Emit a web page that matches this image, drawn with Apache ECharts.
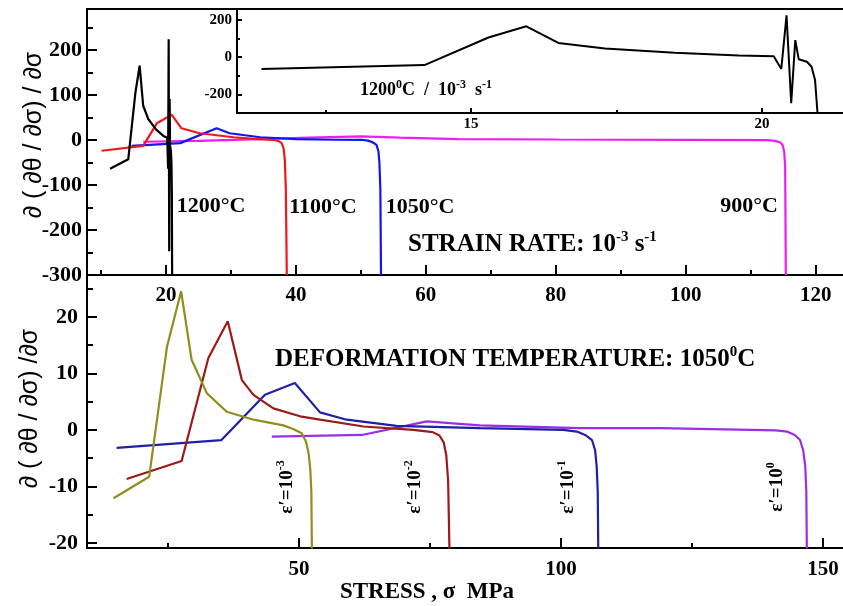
<!DOCTYPE html>
<html>
<head>
<meta charset="utf-8">
<script src="https://cdn.jsdelivr.net/npm/echarts@6/dist/echarts.min.js"></script>
<style>
  html, body { margin: 0; padding: 0; background: #fff; }
  #chart { width: 843px; height: 606px; }
</style>
</head>
<body>
<div id="chart"></div>
<script>
// top panel: strain rate 1e-3 s^-1, [stress, d(dθ/dσ)/dσ]
let curve1200 = [[11.4, -64], [14.2, -43], [15.3, 105], [15.95, 165], [16.5, 76], [17.3, 46], [18.5, 23],
  [19.6, 9], [20.2, 5], [20.33, -64], [20.42, 224], [20.5, -247], [20.57, 91], [20.63, -12],
  [20.77, -25], [20.85, -52], [20.91, -123], [20.95, -292], [20.97, -320]];
let curve1100 = [[10.1, -24], [16.5, -13], [18.6, 37], [20.9, 56], [22.4, 26], [25.2, 15], [30.4, 6],
  [34, 2], [36.5, 0], [37.3, -2], [37.8, -7], [38.1, -18], [38.3, -45], [38.45, -110], [38.6, -300]];
let curve1050 = [[14.7, -13], [22.2, -7], [27.8, 26], [29.8, 15], [34.5, 6], [40, 2], [46, 0.5], [50.3, 0],
  [51.1, -1.5], [51.8, -5], [52.4, -11], [52.7, -25], [52.85, -50], [53, -110], [53.1, -300]];
let curve900 = [[16.5, -4], [25, -2], [33, 1.5], [42, 5], [50, 8], [56, 5], [65, 2], [80, 1], [100, 0],
  [112.5, -0.5], [113.8, -2], [114.5, -5], [114.9, -11], [115.15, -25], [115.3, -60], [115.4, -300]];

// bottom panel: deformation temperature 1050 C
let rateE3 = [[14.6, -12.1], [21.4, -8.3], [24.8, 14.7], [27.5, 24.5], [29.5, 12.4], [32.4, 6.5], [36.2, 3.2],
  [41.3, 1.8], [47, 0.8], [49, 0.1], [50.5, -0.6], [51.3, -2], [51.8, -4], [52.15, -7], [52.35, -11], [52.45, -21]];
let rateE2 = [[17.1, -8.7], [27.6, -5.5], [32.7, 12.7], [36.4, 19.2], [39.1, 8.8], [41.3, 6.2], [45.1, 3.8],
  [50.2, 2.4], [54, 1.8], [62.3, 0.6], [71.8, 0], [75.5, -0.4], [76.8, -1], [77.6, -2.2], [78.1, -4.5],
  [78.45, -9], [78.7, -21]];
let rateE1 = [[15.2, -3.2], [35.2, -1.8], [43.5, 6.2], [49.2, 8.3], [54, 3.1], [59.1, 1.8], [68.6, 0.7],
  [84.5, 0.3], [100.4, 0], [103, -0.3], [104.6, -0.9], [105.9, -1.8], [106.5, -3.6], [106.8, -6.5],
  [107, -11], [107.1, -21]];
let rateE0 = [[44.8, -1.2], [62, -0.9], [74.4, 1.5], [84.5, 0.8], [103.6, 0.3], [118.9, 0.3], [141, -0.1],
  [143.1, -0.3], [144.6, -0.9], [145.6, -1.8], [146.2, -3.6], [146.6, -6.5], [146.8, -11], [146.9, -21]];

// ticks
let topXMajor = [20, 40, 60, 80, 100, 120];
let topXMinor = [10, 30, 50, 70, 90, 110];
let topYMajor = [-300, -200, -100, 0, 100, 200];
let topYMinor = [-250, -150, -50, 50, 150, 250];
let insetXMajor = [15, 20];
let insetXMinor = [12.5, 17.5];
let insetYMajor = [-200, 0, 200];
let insetYMinor = [-100, 100];
let botXMajor = [50, 100, 150];
let botXMinor = [25, 75, 125];
let botYMajor = [-20, -10, 0, 10, 20];
let botYMinor = [-15, -5, 5, 15, 25];

const SERIF = 'Liberation Serif';
const SANS = 'Liberation Sans';

function axis(grid, pos, min, max, ticks, len, labels, font, margin) {
  let a = {
    type: 'value', gridIndex: grid, position: pos, min: min, max: max,
    splitLine: { show: false },
    axisLine: { show: true, onZero: false, lineStyle: { color: '#000', width: 2 } },
    axisTick: ticks ? { show: true, inside: true, length: len, customValues: ticks,
      lineStyle: { color: '#000', width: 2 } } : { show: false },
    axisLabel: { show: false }
  };
  if (labels) {
    a.axisLabel = { show: true, customValues: labels, margin: margin, color: '#000',
      fontFamily: SERIF, fontWeight: 'bold', fontSize: font };
  }
  return a;
}

function line(data, color, xi, yi, w) {
  return { type: 'line', data: data, xAxisIndex: xi, yAxisIndex: yi, symbol: 'none',
    lineStyle: { color: color, width: w }, itemStyle: { color: color }, animation: false };
}

let txt = { fontFamily: SERIF, fontWeight: 'bold', fontSize: 25, lineHeight: 31, fill: '#000' };
let sup = { fontFamily: SERIF, fontWeight: 'bold', fontSize: 15, lineHeight: 15, verticalAlign: 'top', fill: '#000' };
let txtS = { fontFamily: SERIF, fontWeight: 'bold', fontSize: 18, lineHeight: 22, fill: '#000' };
let supS = { fontFamily: SERIF, fontWeight: 'bold', fontSize: 12, lineHeight: 11, verticalAlign: 'top', fill: '#000' };
let eps = { fontFamily: SERIF, fontWeight: 'bold', fontSize: 19, lineHeight: 24, fill: '#000' };
let supE = { fontFamily: SERIF, fontWeight: 'bold', fontSize: 12, lineHeight: 12, verticalAlign: 'top', fill: '#000' };

function note(x, y, text, rich, rot, align) {
  return { type: 'text', x: x, y: y, rotation: rot || 0, z: 100,
    style: { text: text, rich: rich, align: align || 'center', verticalAlign: 'middle',
      fontFamily: SERIF, fontWeight: 'bold', fontSize: 22, fill: '#000' } };
}

let yName = '\u2202 ( \u2202\u03b8 / \u2202\u03c3) / \u2202\u03c3';
let yName2 = '\u2202 ( \u2202\u03b8 / \u2202\u03c3) /\u2202\u03c3';

let yTop = axis(0, 'left', -300, 291, topYMajor, 10, topYMajor, 22, 5);
yTop.name = yName;
yTop.nameLocation = 'middle';
yTop.nameGap = 40;
yTop.nameMoveOverlap = false;
yTop.nameTextStyle = { fontFamily: SANS, fontSize: 25, color: '#000', padding: [0, 0, 0, 14] };

let yBot = axis(2, 'left', -20.9, 27.4, botYMajor, 10, botYMajor, 22, 9);
yBot.name = yName2;
yBot.nameLocation = 'middle';
yBot.nameGap = 44;
yBot.nameMoveOverlap = false;
yBot.nameTextStyle = { fontFamily: SANS, fontSize: 25, color: '#000', padding: [0, 0, 0, 6] };

let xBot = axis(2, 'bottom', 9.54, 153.8, botXMajor, 10, botXMajor, 21, 11);
xBot.name = 'STRESS , \u03c3  MPa';
xBot.nameLocation = 'middle';
xBot.nameGap = 33;
xBot.nameMoveOverlap = false;
xBot.nameTextStyle = { fontFamily: SERIF, fontWeight: 'bold', fontSize: 23, color: '#000', padding: [0, 76, 0, 0] };

let option = {
  backgroundColor: '#fff',
  animation: false,
  grid: [
    { left: 87, top: 9, right: 0, height: 266 },
    { left: 237, top: 9, right: 0, height: 104 },
    { left: 87, top: 275, right: 0, height: 273 }
  ],
  xAxis: [
    axis(0, 'bottom', 7.85, 124.2, topXMajor, 10, topXMajor, 21, 10),
    axis(0, 'bottom', 7.85, 124.2, topXMinor, 5, null),
    axis(0, 'top', 7.85, 124.2, null, 0, null),
    axis(1, 'bottom', 10.98, 21.39, insetXMajor, 5, insetXMajor, 15, 4),
    axis(1, 'bottom', 10.98, 21.39, insetXMinor, 3, null),
    xBot,
    axis(2, 'bottom', 9.54, 153.8, botXMinor, 5, null)
  ],
  yAxis: [
    yTop,
    axis(0, 'left', -300, 291, topYMinor, 6, null),
    axis(1, 'left', -300, 258, insetYMajor, 5, insetYMajor, 15, 5),
    axis(1, 'left', -300, 258, insetYMinor, 3, null),
    yBot,
    axis(2, 'left', -20.9, 27.4, botYMinor, 6, null)
  ],
  series: [
    line(curve900, '#ee1cee', 0, 0, 2.2),
    line(curve1050, '#1414f0', 0, 0, 2.2),
    line(curve1100, '#f01818', 0, 0, 2.2),
    line(curve1200, '#000000', 0, 0, 2.2),
    line(curve1200, '#000000', 3, 2, 2),
    line(rateE0, '#9a2ee6', 5, 4, 2.2),
    line(rateE1, '#1f1fa8', 5, 4, 2.2),
    line(rateE2, '#9b1b1b', 5, 4, 2.2),
    line(rateE3, '#8f8f1f', 5, 4, 2.2)
  ],
  graphic: [
    note(211, 206, '1200\u00b0C'),
    note(323, 207, '1100\u00b0C'),
    note(420, 207, '1050\u00b0C'),
    note(749, 206, '900\u00b0C'),
    note(408, 245, '{t|STRAIN RATE: 10}{s|-3}{t| s}{s|-1}', { t: txt, s: sup }, 0, 'left'),
    note(360, 90, '{t|1200}{s|0}{t|C  /  10}{s|-3}{t|  s}{s|-1}', { t: txtS, s: supS }, 0, 'left'),
    note(275, 360, '{t|DEFORMATION TEMPERATURE: 1050}{s|0}{t|C}', { t: txt, s: sup }, 0, 'left'),
    note(287, 487, '{t|\u03b5\u2032=10}{s|-3}', { t: eps, s: supE }, Math.PI / 2),
    note(415, 487, '{t|\u03b5\u2032=10}{s|-2}', { t: eps, s: supE }, Math.PI / 2),
    note(568, 487, '{t|\u03b5\u2032=10}{s|-1}', { t: eps, s: supE }, Math.PI / 2),
    note(777, 487, '{t|\u03b5\u2032=10}{s|0}', { t: eps, s: supE }, Math.PI / 2)
  ]
};

let chart = echarts.init(document.getElementById('chart'));
chart.setOption(option);
</script>
</body>
</html>
